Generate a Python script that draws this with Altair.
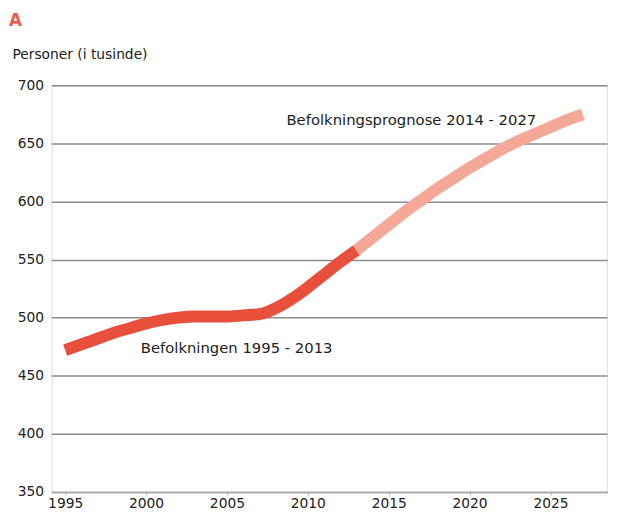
import altair as alt
import pandas as pd

hist_years = list(range(1995, 2014))
hist_vals = [472, 477, 482, 487, 491, 495, 498, 500, 501, 501, 501, 502, 503, 508, 516, 526, 537, 548, 558]
prog_years = list(range(2013, 2028))
prog_vals = [558, 569, 580, 591, 601, 611, 620, 629, 637, 645, 652, 658, 664, 670, 675]

x_ticks = [1995, 2000, 2005, 2010, 2015, 2020, 2025]
y_ticks = [350, 400, 450, 500, 550, 600, 650, 700]

hist = pd.DataFrame({"year": hist_years, "value": hist_vals})
prog = pd.DataFrame({"year": prog_years, "value": prog_vals})

labels = pd.DataFrame({
    "year": [2005.6, 2016.4],
    "value": [474, 670],
    "text": ["Befolkningen 1995 - 2013", "Befolkningsprognose 2014 - 2027"],
})

FONT = "DejaVu Sans"

x = alt.X("year:Q", scale=alt.Scale(domain=[1994.15, 2028.5], nice=False, zero=False),
          axis=alt.Axis(values=x_ticks, format="d", title=None, grid=False,
                        domainColor="#aaaaaa", domainWidth=1.5, tickColor="#aaaaaa",
                        tickSize=3, labelFontSize=14, labelColor="#222222",
                        labelFont=FONT, labelPadding=2))
y = alt.Y("value:Q", scale=alt.Scale(domain=[350, 700], nice=False, zero=False),
          axis=alt.Axis(values=y_ticks, title="Personer (i tusinde)", titleAngle=0,
                        titleAlign="left", titleBaseline="middle", titleX=-40, titleY=-31,
                        titleFont=FONT, titleFontSize=14, titleFontWeight="normal",
                        titleColor="#222222",
                        grid=True, gridColor="#8c8c8c", gridWidth=1.6,
                        domain=False, ticks=False, labelPadding=8,
                        labelFontSize=14, labelColor="#222222", labelFont=FONT))

grid_layer = alt.Chart(hist).mark_line(opacity=0).encode(x=x, y=y)

prog_line = alt.Chart(prog).mark_line(
    color="#f4a898", strokeWidth=12, interpolate="monotone", strokeCap="butt"
).encode(x="year:Q", y="value:Q")

hist_line = alt.Chart(hist).mark_line(
    color="#e9503c", strokeWidth=12, interpolate="monotone", strokeCap="butt"
).encode(x="year:Q", y="value:Q")

text_layer = alt.Chart(labels).mark_text(
    fontSize=15, font=FONT, color="#222222", align="center", baseline="middle"
).encode(x="year:Q", y="value:Q", text="text:N")

letter = alt.Chart(pd.DataFrame({"t": ["A"]})).mark_text(
    fontSize=17, font=FONT, fontWeight="bold", color="#ea5a4a", align="left", baseline="middle"
).encode(x=alt.value(-43), y=alt.value(-65), text="t:N")

chart = alt.layer(grid_layer, prog_line, hist_line, text_layer, letter).properties(
    width=563, height=412,
    autosize=alt.AutoSizeParams(type="none"),
    padding={"left": 44, "top": 75, "right": 6, "bottom": 16},
).configure_view(stroke=None).configure(background="white")

chart.save("out.html", embed_options={"renderer": "svg", "actions": False})
